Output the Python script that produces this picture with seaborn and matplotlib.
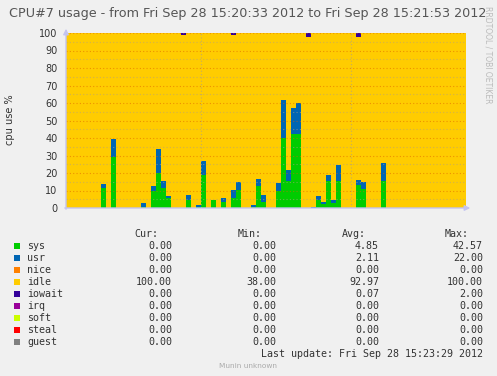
import numpy as np
import pandas as pd
import matplotlib
matplotlib.use("Agg")
import matplotlib.pyplot as plt
import seaborn as sns
from matplotlib.patches import Rectangle

# ---------------- data (one value per second, 15:20:33 .. 15:21:53) ----------------
steps = list(range(80))
sys_vals = [0, 0, 0, 0, 0, 0, 0, 11.5, 0, 29.0,
            0, 0, 0, 0, 0, 0.5, 0, 9.7, 19.8, 11.4,
            5.7, 0, 0, 0, 4.6, 0, 0.6, 18.9, 0, 4.6,
            0, 3.4, 0, 5.7, 10.3, 0, 0, 0.6, 12.6, 3.4,
            0, 0, 9.7, 40.0, 15.4, 42.57, 42.5, 0, 0, 0,
            4.6, 2.3, 15.4, 2.9, 15.4, 0, 0, 0, 13.1, 10.9,
            0, 0, 0, 15.4, 0, 0, 0, 0, 0, 0,
            0, 0, 0, 0, 0, 0, 0, 0, 0, 0]
usr_vals = [0, 0, 0, 0, 0, 0, 0, 2.3, 0, 10.5,
            0, 0, 0, 0, 0, 2.5, 0, 2.9, 13.9, 4.0,
            1.2, 0, 0, 0, 2.8, 0, 1.1, 8.0, 0, 0,
            0, 2.3, 0, 4.6, 4.6, 0, 0, 1.1, 4.0, 4.0,
            0, 0, 4.6, 22.0, 6.3, 14.5, 17.5, 0, 0, 0.6,
            2.3, 1.1, 3.5, 1.7, 9.2, 0, 0, 0, 2.9, 4.0,
            0, 0, 0, 10.3, 0, 0, 0, 0, 0, 0,
            0, 0, 0, 0, 0, 0, 0, 0, 0, 0]
idle_vals = [100, 100, 100, 100, 100, 100, 100, 86.2, 100, 60.5,
             100, 100, 100, 100, 100, 97.0, 100, 87.4, 66.3, 84.6,
             93.1, 100, 100, 99.0, 92.6, 100, 98.3, 73.1, 100, 95.4,
             100, 94.3, 100, 88.7, 85.1, 100, 100, 98.3, 83.4, 92.6,
             100, 100, 85.7, 38.0, 78.3, 42.93, 40.0, 100, 98.0, 99.4,
             93.1, 96.6, 81.1, 95.4, 75.4, 100, 100, 100, 82.0, 85.1,
             100, 100, 100, 74.3, 100, 100, 100, 100, 100, 100,
             100, 100, 100, 100, 100, 100, 100, 100, 100, 100]
iowait_vals = [0, 0, 0, 0, 0, 0, 0, 0, 0, 0,
               0, 0, 0, 0, 0, 0, 0, 0, 0, 0,
               0, 0, 0, 1.0, 0, 0, 0, 0, 0, 0,
               0, 0, 0, 1.0, 0, 0, 0, 0, 0, 0,
               0, 0, 0, 0, 0, 0, 0, 0, 2.0, 0,
               0, 0, 0, 0, 0, 0, 0, 0, 2.0, 0,
               0, 0, 0, 0, 0, 0, 0, 0, 0, 0,
               0, 0, 0, 0, 0, 0, 0, 0, 0, 0]

legend_names = ["sys", "usr", "nice", "idle", "iowait", "irq", "soft", "steal", "guest"]
legend_colors = ["#00CC00", "#0066B3", "#FF8000", "#FFCC00", "#330099",
                 "#990099", "#CCFF00", "#FF0000", "#808080"]
cur_vals = [0.00, 0.00, 0.00, 100.00, 0.00, 0.00, 0.00, 0.00, 0.00]
min_vals = [0.00, 0.00, 0.00, 38.00, 0.00, 0.00, 0.00, 0.00, 0.00]
avg_vals = [4.85, 2.11, 0.00, 92.97, 0.07, 0.00, 0.00, 0.00, 0.00]
max_vals = [42.57, 22.00, 0.00, 100.00, 2.00, 0.00, 0.00, 0.00, 0.00]

title = "CPU#7 usage - from Fri Sep 28 15:20:33 2012 to Fri Sep 28 15:21:53 2012"
last_update = "Last update: Fri Sep 28 15:23:29 2012"

# ---------------- figure ----------------
sns.set_style("white")
plt.rcParams["font.family"] = ["DejaVu Sans"]

W, H = 497, 376
fig = plt.figure(figsize=(W / 100, H / 100), dpi=100, facecolor="#F0F0F0")

def fx(x):
    return x / W

def fy(y):
    return 1 - y / H

left, right, top, bottom = 66, 466, 33, 208
ax = fig.add_axes([fx(left), fy(bottom), (right - left) / W, (bottom - top) / H])
ax.set_facecolor("#FFCC00")

stack_order = ["sys", "usr", "idle", "iowait"]
df = pd.DataFrame({
    "t": steps * 4,
    "value": sys_vals + usr_vals + idle_vals + iowait_vals,
    "series": ["sys"] * 80 + ["usr"] * 80 + ["idle"] * 80 + ["iowait"] * 80,
})
palette = {"sys": "#00CC00", "usr": "#0066B3", "idle": "#FFCC00", "iowait": "#330099"}
sns.histplot(data=df, x="t", weights="value", hue="series",
             hue_order=stack_order[::-1], multiple="stack",
             bins=80, binrange=(0, 80), element="step", fill=True,
             alpha=1, linewidth=0, palette=palette, legend=False, ax=ax)

ax.set_xlim(0, 80)
ax.set_ylim(0, 100)
ax.set_xlabel("")
ax.set_ylabel("")
for s in ax.spines.values():
    s.set_visible(False)

ax.set_yticks(range(0, 101, 10))
ax.set_yticks(range(5, 100, 10), minor=True)
ax.set_xticks([27, 57])
ax.set_xticklabels([])
ax.tick_params(axis="x", length=0)
ax.tick_params(axis="y", which="major", length=2, color="#FF8080", pad=4,
               labelsize=7, labelcolor="#333333")
ax.tick_params(axis="y", which="minor", length=0)
ax.set_axisbelow(False)
ax.grid(which="major", axis="y", color="#E06000", alpha=0.55, linestyle=(0, (1, 2)), linewidth=0.8)
ax.grid(which="minor", axis="y", color="#B0A080", alpha=0.6, linestyle=(0, (1, 2)), linewidth=0.8)
ax.grid(which="major", axis="x", color="#B0A080", alpha=0.7, linestyle=(0, (1, 2)), linewidth=0.8)

# axis lines with arrows
axis_col = "#C4C4F0"
ax.annotate("", xy=(1 + 7 / 400, 0), xytext=(-4 / 400, 0), xycoords="axes fraction",
            arrowprops=dict(arrowstyle="-|>", color=axis_col, lw=1, mutation_scale=8),
            annotation_clip=False)
ax.annotate("", xy=(0, 1 + 7 / 175), xytext=(0, -4 / 175), xycoords="axes fraction",
            arrowprops=dict(arrowstyle="-|>", color=axis_col, lw=1, mutation_scale=8),
            annotation_clip=False)

# texts
fig.text(fx(248), fy(13), title, ha="center", va="center", fontsize=9.2, color="#555555")
fig.text(fx(10), fy(120), "cpu use %", ha="center", va="center", rotation=90,
         fontsize=7, color="#333333")
fig.text(fx(488), fy(6), "RRDTOOL / TOBI OETIKER", ha="center", va="top", rotation=270,
         fontsize=5.5, color="#BBBBBB")

mono = "DejaVu Sans Mono"
fs = 7.2
tc = "#333333"
col_ends = [172, 276, 379, 483]
head_ends = [158, 262, 366, 469]
for name, xe in zip(["Cur:", "Min:", "Avg:", "Max:"], head_ends):
    fig.text(fx(xe), fy(234), name, ha="right", va="center", family=mono, fontsize=fs, color=tc)

for i, (name, c) in enumerate(zip(legend_names, legend_colors)):
    yc = 246 + 12 * i
    fig.patches.append(Rectangle((fx(14), fy(yc + 3)), 6 / W, 6 / H, transform=fig.transFigure,
                                 facecolor=c, edgecolor="none"))
    fig.text(fx(27), fy(yc), name, ha="left", va="center", family=mono, fontsize=fs, color=tc)
    for vals, xe in zip([cur_vals, min_vals, avg_vals, max_vals], col_ends):
        fig.text(fx(xe), fy(yc), f"{vals[i]:.2f}", ha="right", va="center",
                 family=mono, fontsize=fs, color=tc)

fig.text(fx(483), fy(354), last_update, ha="right", va="center", family=mono, fontsize=fs, color=tc)
fig.text(fx(248), fy(366), "Munin unknown", ha="center", va="center", fontsize=5.3, color="#AAAAAA")

fig.savefig("out.png", dpi=100, facecolor=fig.get_facecolor())
